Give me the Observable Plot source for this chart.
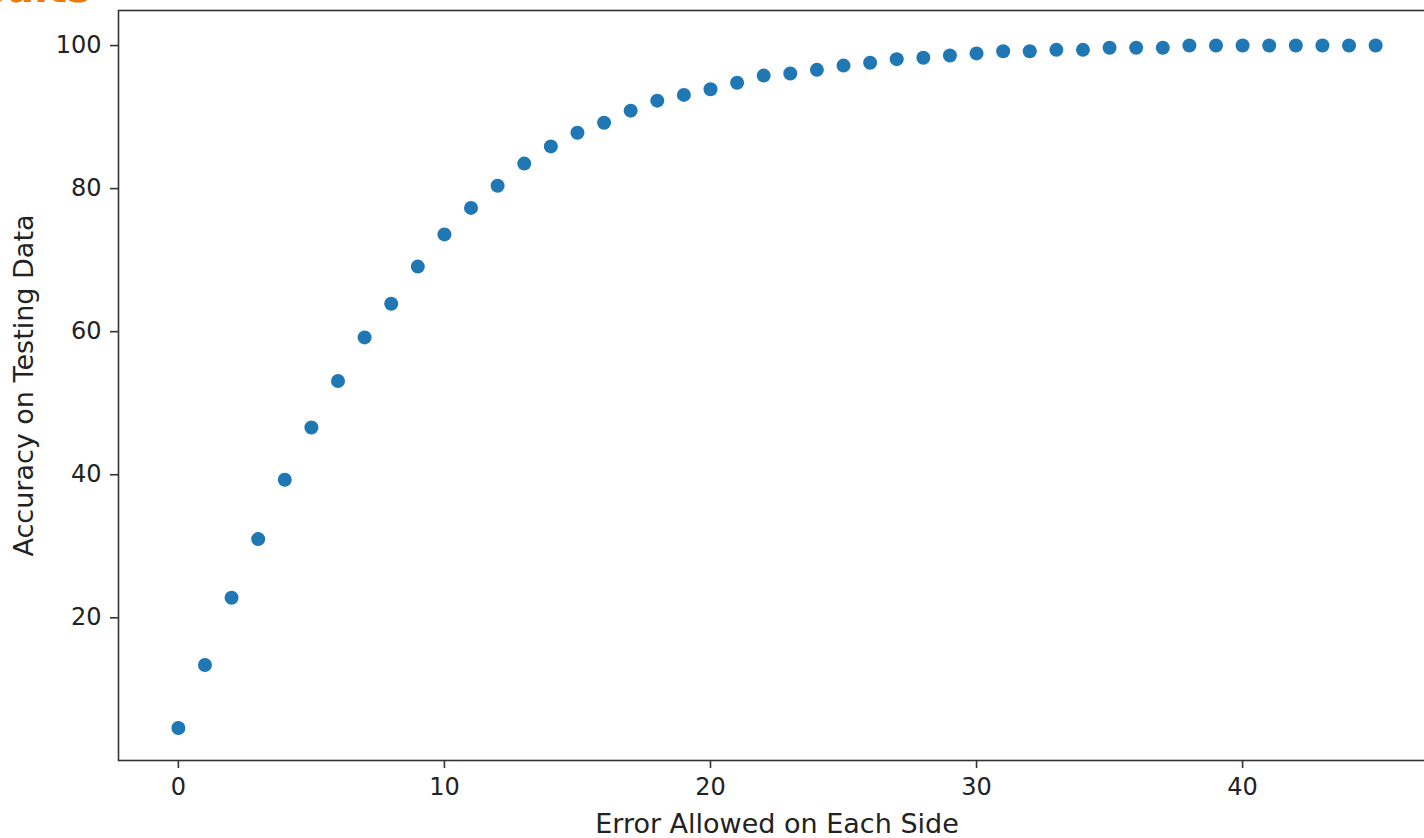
<!DOCTYPE html>
<html>
<head>
<meta charset="utf-8">
<script src="https://cdn.jsdelivr.net/npm/d3@7"></script>
<script src="https://cdn.jsdelivr.net/npm/@observablehq/plot@0.6"></script>
<style>
  html, body { margin: 0; padding: 0; background: #fff; overflow: hidden; width: 1424px; height: 838px; }
  #wrap { position: relative; width: 1424px; height: 838px; overflow: hidden; }
  #frag { position: absolute; left: -76px; top: -32px; font: bold 40px "DejaVu Sans"; line-height: 1; color: #f07800; white-space: nowrap; z-index: 2; }
  #chart { position: absolute; left: 0; top: 0; width: 1436px; }
  #chart svg { max-width: none !important; }
</style>
</head>
<body>
<div id="wrap">
  <div id="frag">Results</div>
  <div id="chart"></div>
</div>
<script>
const errorAllowed = [0,1,2,3,4,5,6,7,8,9,10,11,12,13,14,15,16,17,18,19,20,21,22,23,24,25,26,27,28,29,30,31,32,33,34,35,36,37,38,39,40,41,42,43,44,45];
const accuracy = [4.6,13.4,22.8,31.0,39.3,46.6,53.1,59.2,63.9,69.1,73.6,77.3,80.4,83.5,85.9,87.8,89.2,90.9,92.3,93.1,93.9,94.8,95.8,96.1,96.6,97.2,97.6,98.1,98.3,98.6,98.9,99.2,99.2,99.4,99.4,99.7,99.7,99.7,100,100,100,100,100,100,100,100];
const xTicks = [0,10,20,30,40];
const yTicks = [20,40,60,80,100];
const xLabel = "Error Allowed on Each Side";
const yLabel = "Accuracy on Testing Data";

const data = errorAllowed.map((e, i) => ({e, a: accuracy[i]}));
const spine = "#333";

const chart = Plot.plot({
  width: 1436,
  height: 838,
  marginTop: 10,
  marginBottom: 78,
  marginLeft: 118,
  marginRight: 1,
  style: {fontFamily: "DejaVu Sans", fontSize: "24px", color: "#222", background: "transparent", maxWidth: "none"},
  x: {domain: [-2.25, 47.25]},
  y: {domain: [0.05, 104.9]},
  marks: [
    Plot.frame({stroke: spine, strokeWidth: 1.6}),
    Plot.axisX(xTicks, {tickSize: 8, tickPadding: 9, stroke: spine, strokeWidth: 1.6, fontSize: 24, fill: "#222", label: null}),
    Plot.axisY(yTicks, {tickSize: 8, tickPadding: 9, stroke: spine, strokeWidth: 1.6, fontSize: 24, fill: "#222", label: null}),
    Plot.dot(data, {x: "e", y: "a", r: 7, fill: "#1f77b4", stroke: "none"}),
    Plot.text([xLabel], {frameAnchor: "bottom", dy: 64, text: d => d, fontSize: 27, fill: "#222", lineAnchor: "middle"}),
    Plot.text([yLabel], {frameAnchor: "left", dx: -94, rotate: -90, text: d => d, fontSize: 27, fill: "#222", lineAnchor: "middle", textAnchor: "middle"})
  ]
});
document.getElementById("chart").appendChild(chart);
</script>
</body>
</html>
